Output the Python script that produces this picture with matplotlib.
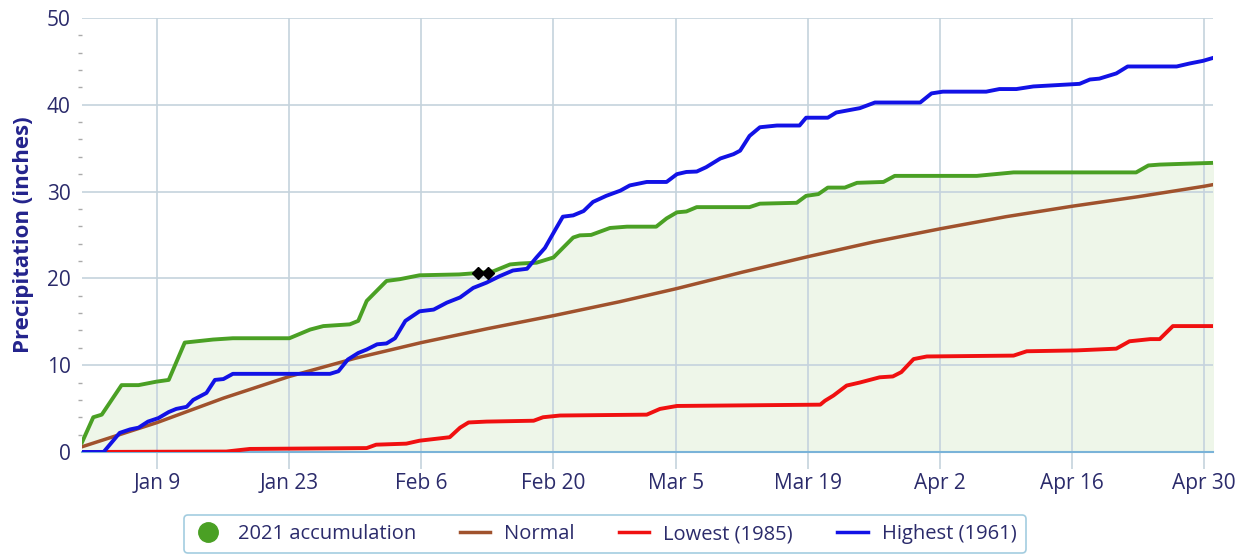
import matplotlib
matplotlib.use("Agg")
import matplotlib.pyplot as plt
from matplotlib.lines import Line2D

# day of year (Jan 1 = 1), values in inches
acc_days = [1, 2.2, 3.1, 5.2, 7, 8.9, 10.2, 11.9, 14.9, 17, 23, 25.2, 26.6, 29.4, 30.3, 31.2,
            33.3, 34.7, 36.8, 41, 42.8, 44.6, 46.4, 47.4, 49.2, 51, 52, 53.1, 53.8, 55, 57,
            58.8, 61.9, 63, 64.1, 65.1, 66.2, 71.8, 72.9, 76.8, 77.8, 79.1, 80.1, 81.9, 83.2,
            86, 87.2, 95.9, 99.8, 112.8, 114.1, 115.3, 119.5, 121]
acc_vals = [1.1, 4.0, 4.3, 7.7, 7.7, 8.1, 8.3, 12.6, 12.95, 13.1, 13.1, 14.1, 14.5, 14.7, 15.1, 17.4,
            19.7, 19.9, 20.35, 20.45, 20.6, 20.8, 21.6, 21.7, 21.8, 22.4, 23.5, 24.7, 24.95, 25.0, 25.8,
            25.95, 25.95, 26.9, 27.6, 27.7, 28.2, 28.2, 28.6, 28.7, 29.5, 29.7, 30.45, 30.45, 31.0,
            31.1, 31.8, 31.8, 32.2, 32.2, 33.0, 33.1, 33.25, 33.3]

normal_days = [1, 9, 16, 23, 30, 37, 44, 51, 58, 64, 71, 78, 85, 92, 99, 106, 113, 120, 121]
normal_vals = [0.6, 3.4, 6.2, 8.7, 10.8, 12.6, 14.2, 15.7, 17.3, 18.8, 20.7, 22.5, 24.2, 25.7,
               27.1, 28.3, 29.4, 30.6, 30.8]

low_days = [1, 16.3, 18.8, 31.2, 32.2, 35.4, 36.8, 40, 41.1, 42, 43.9, 48.9, 49.9, 51.7, 60.9,
            62.3, 64.1, 79.3, 79.8, 80.7, 82.1, 83.5, 85.6, 87, 87.9, 89.2, 90.6, 99.8, 101.2,
            106.5, 110.7, 112.1, 114.3, 115.3, 116.7, 121]
low_vals = [0.0, 0.05, 0.35, 0.45, 0.84, 0.96, 1.3, 1.7, 2.8, 3.4, 3.5, 3.6, 4.0, 4.2, 4.3,
            4.96, 5.3, 5.45, 5.9, 6.5, 7.65, 8.0, 8.6, 8.7, 9.2, 10.7, 11.0, 11.1, 11.6,
            11.7, 11.9, 12.75, 13.0, 13.0, 14.5, 14.5]

high_days = [1, 3.3, 5, 6.1, 7, 8, 9.1, 10.2, 11, 12.1, 12.8, 14.2, 15.1, 16, 17, 27.3, 28.2,
             29.2, 30.3, 31.2, 32.3, 33.3, 34.2, 35.3, 36.8, 38.3, 39.7, 41.1, 42.5, 43.9, 45.3,
             46.7, 48.2, 49.2, 50.1, 51.2, 52, 53.1, 54.2, 55.2, 56.6, 58.1, 59.1, 60.9, 63,
             64.1, 65.1, 66.2, 67.2, 68.7, 70.1, 70.8, 71.8, 72.9, 74.7, 77.1, 77.8, 80.1, 81,
             83.5, 85.1, 89.9, 91.1, 92.3, 96.9, 98.3, 100.1, 101.9, 106.8, 107.9, 108.9, 110.7,
             111.9, 117.1, 118.5, 119.9, 121]
high_vals = [0.0, 0.0, 2.2, 2.6, 2.8, 3.5, 3.9, 4.6, 4.96, 5.2, 6.0, 6.8, 8.3, 8.4, 9.0, 9.0, 9.3,
             10.65, 11.4, 11.8, 12.4, 12.5, 13.1, 15.1, 16.2, 16.4, 17.2, 17.8, 18.9, 19.5, 20.25,
             20.9, 21.1, 22.4, 23.5, 25.6, 27.1, 27.25, 27.75, 28.8, 29.5, 30.1, 30.7, 31.1, 31.1,
             32.0, 32.25, 32.3, 32.8, 33.8, 34.3, 34.7, 36.4, 37.4, 37.6, 37.6, 38.5, 38.5, 39.1,
             39.6, 40.25, 40.25, 41.3, 41.5, 41.5, 41.8, 41.8, 42.1, 42.4, 42.9, 43.0, 43.6,
             44.4, 44.4, 44.75, 45.05, 45.4]

marker_days = [43.0, 44.1]
marker_vals = [20.6, 20.6]

tick_days = [9, 23, 37, 51, 64, 78, 92, 106, 120]
tick_labels = ["Jan 9", "Jan 23", "Feb 6", "Feb 20", "Mar 5", "Mar 19", "Apr 2", "Apr 16", "Apr 30"]

navy = "#2b2b6b"
plt.rcParams["font.family"] = ["Open Sans", "DejaVu Sans"]

fig = plt.figure(figsize=(12.42, 5.58), dpi=100)
ax = fig.add_axes([0.066, 0.19, 0.911, 0.778])

ax.fill_between(acc_days, 0, acc_vals, color="#eef6e9", zorder=1)
ax.plot(normal_days, normal_vals, color="#a0522d", lw=2.5, zorder=3)
ax.plot(low_days, low_vals, color="#f01010", lw=2.8, zorder=3)
ax.plot(acc_days, acc_vals, color="#4aa024", lw=2.8, zorder=4)
ax.plot(high_days, high_vals, color="#1212e6", lw=2.8, zorder=5)
ax.plot(marker_days, marker_vals, ls="none", marker="D", ms=6, color="black", zorder=6)

ax.set_xlim(1, 121)
ax.set_ylim(0, 50)
ax.set_xticks(tick_days)
ax.set_xticklabels(tick_labels)
ax.set_yticks(range(0, 51, 10))
ax.set_yticks(range(0, 51, 2), minor=True)
ax.grid(True, which="major", color="#c5d3dd", lw=1.2)
ax.tick_params(axis="x", which="major", length=12, color="#c5d3dd", width=1.2,
               labelsize=15, labelcolor=navy, pad=3)
ax.tick_params(axis="y", which="major", length=0, labelsize=15, labelcolor=navy, pad=8)
ax.tick_params(axis="y", which="minor", length=3, color="#aaaaaa", width=1)
ax.tick_params(axis="x", which="minor", length=0)

for s in ["top", "right", "left"]:
    ax.spines[s].set_visible(False)
ax.spines["bottom"].set_color("#7ab3d8")
ax.spines["bottom"].set_linewidth(1.5)

ax.set_ylabel("Precipitation (inches)", fontsize=16, fontweight="bold", color="#23238c", labelpad=9)

handles = [
    Line2D([], [], ls="none", marker="o", ms=14, color="#4aa024"),
    Line2D([], [], color="#a0522d", lw=2.5),
    Line2D([], [], color="#f01010", lw=2.5),
    Line2D([], [], color="#1212e6", lw=2.5),
]
labels = ["2021 accumulation", "Normal", "Lowest (1985)", "Highest (1961)"]
leg = fig.legend(handles, labels, loc="center", bbox_to_anchor=(0.487, 0.043), ncol=4,
                 frameon=True, fancybox=True, fontsize=14.5, handlelength=1.5,
                 columnspacing=2.2, handletextpad=0.7, borderpad=0.45)
leg.get_frame().set_edgecolor("#8cc0d8")
leg.get_frame().set_linewidth(1.2)
for t in leg.get_texts():
    t.set_color(navy)

fig.savefig("out.png", dpi=100)
